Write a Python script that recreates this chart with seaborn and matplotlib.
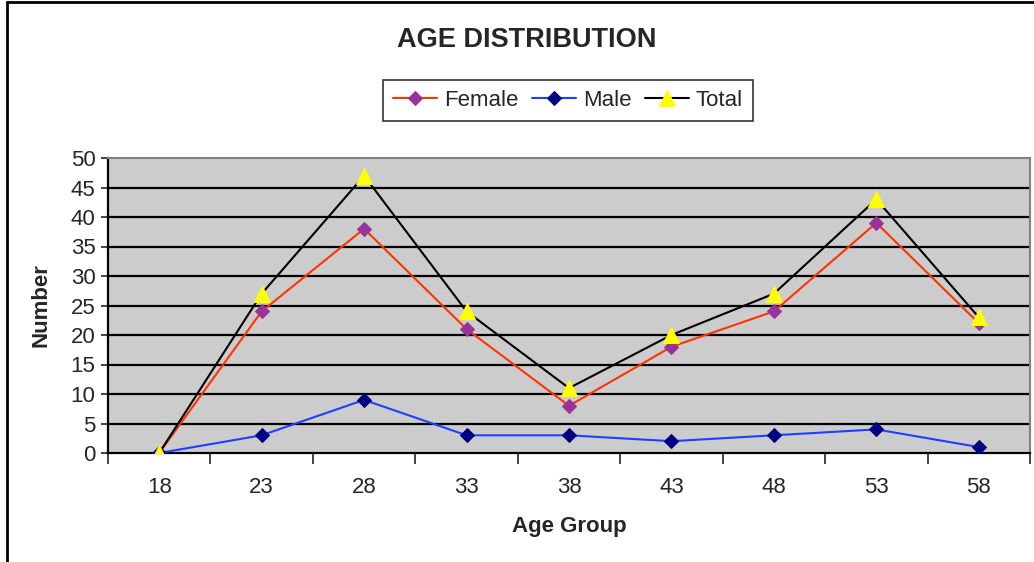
import matplotlib
matplotlib.use('Agg')
import matplotlib.pyplot as plt
from matplotlib.lines import Line2D
import seaborn as sns
import pandas as pd

# data
age_groups = ['18', '23', '28', '33', '38', '43', '48', '53', '58']
female = [0, 24, 38, 21, 8, 18, 24, 39, 22]
male = [0, 3, 9, 3, 3, 2, 3, 4, 1]
total = [0, 27, 47, 24, 11, 20, 27, 43, 23]

df = pd.DataFrame({'pos': range(len(age_groups)), 'Female': female,
                   'Male': male, 'Total': total})

sns.set_style('white')
plt.rcParams['font.family'] = ['Liberation Sans', 'DejaVu Sans']

fig = plt.figure(figsize=(10.34, 5.62), dpi=100)
ax = fig.add_axes([108 / 1034, 1 - 453 / 562, 922 / 1034, 295 / 562])
ax.set_facecolor('#CCCCCC')

# horizontal grid lines
for v in range(5, 50, 5):
    ax.axhline(v, color='black', lw=1.6, zorder=1)

sns.lineplot(data=df, x='pos', y='Female', ax=ax, color='#FF3300', lw=1.5,
             marker='D', markersize=7, markerfacecolor='#993399',
             markeredgecolor='#993399', label='Female', zorder=3)
sns.lineplot(data=df, x='pos', y='Male', ax=ax, color='#1F3FFF', lw=1.5,
             marker='D', markersize=7, markerfacecolor='#000080',
             markeredgecolor='#000080', label='Male', zorder=3)
sns.lineplot(data=df, x='pos', y='Total', ax=ax, color='black', lw=1.5,
             marker='^', markersize=11, markerfacecolor='#FFFF00',
             markeredgecolor='#FFFF00', label='Total', zorder=4)

ax.set_xlim(-0.5, len(age_groups) - 0.5)
ax.set_ylim(0, 50)
ax.set_yticks(range(0, 51, 5))
ax.tick_params(axis='y', direction='out', length=5, width=1.2, left=True,
               labelsize=16, pad=4)

# category ticks between groups, labels centred
ax.set_xticks([i - 0.5 for i in range(len(age_groups) + 1)])
ax.set_xticklabels([])
ax.set_xticks(range(len(age_groups)), minor=True)
ax.set_xticklabels(age_groups, minor=True)
ax.tick_params(axis='x', which='major', direction='out', length=8, width=1.2, bottom=True)
ax.tick_params(axis='x', which='minor', length=0, labelsize=16, pad=17)

for s in ['top', 'right']:
    ax.spines[s].set_color('#808080')
    ax.spines[s].set_linewidth(1.5)
for s in ['left', 'bottom']:
    ax.spines[s].set_color('black')
    ax.spines[s].set_linewidth(1.6)

ax.set_xlabel('Age Group', fontsize=16, fontweight='bold', labelpad=13)
ax.set_ylabel('Number', fontsize=16, fontweight='bold', labelpad=14)

handles, labels = ax.get_legend_handles_labels()
ax.get_legend().remove()
leg = fig.legend(handles, labels,
                 loc='center', bbox_to_anchor=(568 / 1034, 1 - 100 / 562),
                 ncol=3, frameon=True, fancybox=False, fontsize=16,
                 handlelength=2.0, handletextpad=0.3, columnspacing=0.6,
                 borderpad=0.45)
leg.get_frame().set_edgecolor('black')
leg.get_frame().set_linewidth(1.2)

fig.text(527 / 1034, 1 - 40 / 562, 'AGE DISTRIBUTION', ha='center', va='center',
         fontsize=19.5, fontweight='bold')

# outer chart frame
fig.add_artist(Line2D([7 / 1034, 7 / 1034], [0, 1 - 2 / 562], color='black', lw=2))
fig.add_artist(Line2D([7 / 1034, 1], [1 - 2 / 562, 1 - 2 / 562], color='black', lw=2))

fig.savefig('out.png', dpi=100)
